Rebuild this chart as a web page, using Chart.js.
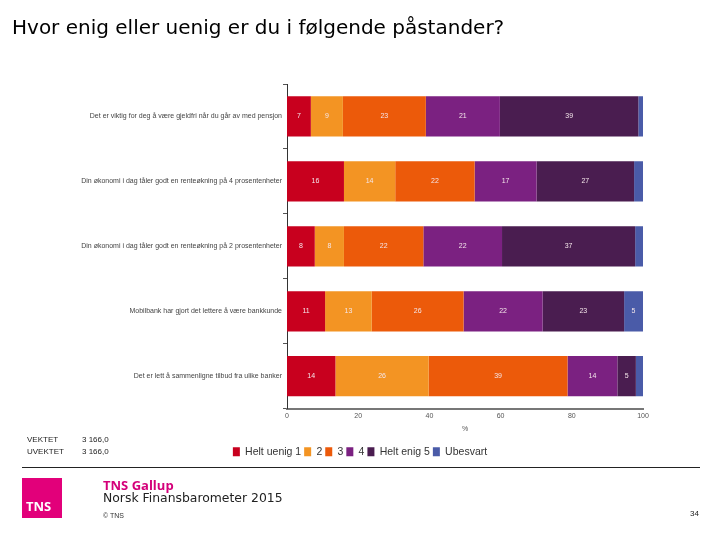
<!DOCTYPE html>
<html>
<head>
<meta charset="utf-8">
<script src="https://cdn.jsdelivr.net/npm/chart.js@4"></script>
<style>
  body { margin: 0; background: #fff; font-family: "Liberation Sans", Arial, sans-serif; }
  #page { position: relative; width: 720px; height: 540px; overflow: hidden; }
  #chartBox { position: absolute; left: 0; top: 0; width: 720px; height: 540px; }
  .abs { position: absolute; white-space: nowrap; }
  #title { left: 12px; top: 15px; font-family: "DejaVu Sans", Verdana, sans-serif; font-size: 20px; color: #000; }
  .w { font-size: 8px; color: #222; }
  #rule { left: 22px; top: 467px; width: 678px; height: 1px; background: #222; }
  #logo { left: 22px; top: 478px; width: 40px; height: 40px; background: #e2007a; }
  #logo span { position: absolute; left: 4px; bottom: 3px; color: #fff; font-weight: bold; font-size: 13px; font-family: "Open Sans", sans-serif; }
  #gallup { left: 103px; top: 476px; color: #d4007a; font-weight: bold; font-size: 13px; font-family: "Open Sans", sans-serif; }
  #sub { left: 103px; top: 490px; font-size: 12.4px; font-family: "DejaVu Sans", Verdana, sans-serif; color: #222; }
  #copy { left: 103px; top: 512px; font-size: 7px; color: #333; }
  #pno { left: 690px; top: 509px; font-size: 8px; color: #222; }
</style>
</head>
<body>
<div id="page">
  <div id="chartBox"><canvas id="surveyChart"></canvas></div>
  <div class="abs" id="title">Hvor enig eller uenig er du i følgende påstander?</div>
  <div class="abs w" style="left:27px;top:435px">VEKTET</div>
  <div class="abs w" style="left:82px;top:435px">3 166,0</div>
  <div class="abs w" style="left:27px;top:447px">UVEKTET</div>
  <div class="abs w" style="left:82px;top:447px">3 166,0</div>
  <div class="abs" id="rule"></div>
  <div class="abs" id="logo"><span>TNS</span></div>
  <div class="abs" id="gallup">TNS Gallup</div>
  <div class="abs" id="sub">Norsk Finansbarometer 2015</div>
  <div class="abs" id="copy">© TNS</div>
  <div class="abs" id="pno">34</div>
</div>
<script>
// statements (top to bottom)
var statements = [
    'Det er viktig for deg å være gjeldfri når du går av med pensjon',
    'Din økonomi i dag tåler godt en renteøkning på 4 prosentenheter',
    'Din økonomi i dag tåler godt en renteøkning på 2 prosentenheter',
    'Mobilbank har gjort det lettere å være bankkunde',
    'Det er lett å sammenligne tilbud fra ulike banker'
];

// answer shares in % (labels are rounded)
var heltUenig1 = [6.7, 16.0, 7.8, 10.7, 13.6];
var svar2 = [9.0, 14.4, 8.2, 13.1, 26.2];
var svar3 = [23.3, 22.3, 22.3, 25.8, 39.0];
var svar4 = [20.8, 17.4, 22.1, 22.2, 14.0];
var heltEnig5 = [38.9, 27.4, 37.4, 22.9, 5.2];
var ubesvart = [1.3, 2.5, 2.2, 5.3, 2.0];

var xTicks = [0, 20, 40, 60, 80, 100];

// draw the numbers inside the bars
var barLabels = {
    id: 'barLabels',
    afterDatasetsDraw: function(chart) {
        var ctx = chart.ctx;
        ctx.save();
        ctx.font = '7px "Liberation Sans", Arial, sans-serif';
        ctx.fillStyle = '#f4e6ea';
        ctx.textAlign = 'center';
        ctx.textBaseline = 'middle';
        chart.data.datasets.forEach(function(ds, i) {
            var meta = chart.getDatasetMeta(i);
            meta.data.forEach(function(bar, j) {
                var v = Math.round(ds.data[j]);
                if (v < 4) return;
                var c = bar.getCenterPoint();
                ctx.fillText(v, c.x, c.y);
            });
        });
        ctx.restore();
    }
};

var ctx = document.getElementById('surveyChart').getContext('2d');
var surveyChart = new Chart(ctx, {
    type: 'bar',
    data: {
        labels: statements,
        datasets: [
            { label: 'Helt uenig 1', data: heltUenig1, backgroundColor: '#c8001e' },
            { label: '2', data: svar2, backgroundColor: '#f39423' },
            { label: '3', data: svar3, backgroundColor: '#ec5a0a' },
            { label: '4', data: svar4, backgroundColor: '#7b2181' },
            { label: 'Helt enig 5', data: heltEnig5, backgroundColor: '#4a1d50' },
            { label: 'Ubesvart', data: ubesvart, backgroundColor: '#4a5ba8' }
        ]
    },
    options: {
        indexAxis: 'y',
        responsive: true,
        maintainAspectRatio: false,
        animation: false,
        datasets: { bar: { categoryPercentage: 1, barPercentage: 0.62, borderWidth: 0 } },
        layout: { padding: { left: 77, right: 77, top: 84, bottom: 73 } },
        plugins: {
            tooltip: { enabled: false },
            legend: {
                position: 'bottom',
                labels: {
                    boxWidth: 7, boxHeight: 9, padding: 3,
                    color: '#333',
                    font: { size: 10.5, family: '"Liberation Sans", Arial, sans-serif' }
                }
            }
        },
        scales: {
            x: {
                stacked: true,
                min: 0, max: 100,
                afterBuildTicks: function(axis) {
                    axis.ticks = xTicks.map(function(v) { return { value: v }; });
                },
                grid: { display: false, drawTicks: false },
                border: { color: '#777', width: 2 },
                ticks: { color: '#555', padding: 3, font: { size: 7 } },
                title: { display: true, text: '%', color: '#555', font: { size: 7 }, padding: { top: 2, bottom: 10 } }
            },
            y: {
                stacked: true,
                afterFit: function(axis) { axis.width = 210; },
                grid: { display: true, drawOnChartArea: false, tickLength: 4, color: '#555' },
                border: { color: '#333', width: 1 },
                ticks: { color: '#444', padding: 1, font: { size: 7, family: '"Liberation Sans", Arial, sans-serif' } }
            }
        }
    },
    plugins: [barLabels]
});
</script>
</body>
</html>
